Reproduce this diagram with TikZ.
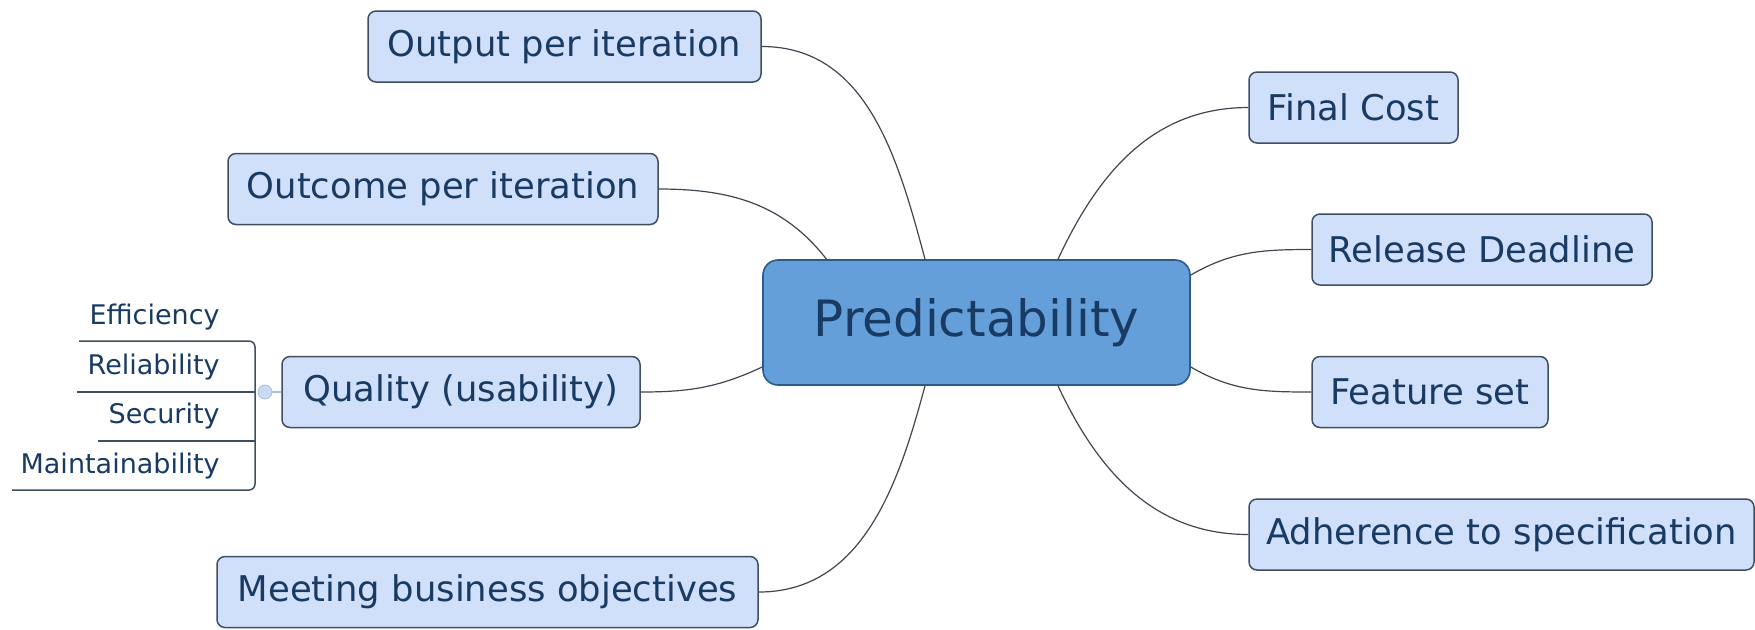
\documentclass[tikz,border=0pt]{standalone}
\usepackage{fontspec}
\setmainfont{DejaVu Sans}
\usetikzlibrary{calc}
\definecolor{boxfill}{HTML}{D0DFFA}
\definecolor{boxline}{HTML}{3D4F61}
\definecolor{txt}{HTML}{183A63}
\definecolor{cfill}{HTML}{659FDA}
\definecolor{cline}{HTML}{2E5A88}
\definecolor{conncol}{HTML}{3E4650}
\definecolor{dotfill}{HTML}{C9DAF1}
\definecolor{dotline}{HTML}{A9C0DE}
\tikzset{
  x=0.5pt, y=0.5pt,
  topic/.style={draw=boxline, line width=0.75pt, fill=boxfill, rounded corners=4pt,
    text=txt, font=\fontsize{17.7}{20}\selectfont, minimum height=35.5pt, inner sep=0pt, align=center},
  central/.style={draw=cline, line width=0.8pt, fill=cfill, rounded corners=7.5pt,
    text=txt, font=\fontsize{25}{28}\selectfont, minimum width=213.5pt, minimum height=62.5pt, inner sep=0pt},
  sub/.style={text=txt, font=\fontsize{13.5}{16}\selectfont, inner sep=0pt, anchor=east},
  conn/.style={draw=conncol, line width=0.6pt},
  subline/.style={draw=boxline, line width=0.75pt},
}
\begin{document}
\begin{tikzpicture}
\useasboundingbox (0,0) rectangle (1755,-629);

\node[central] (P) at (976.5,-322.5) {Predictability};

\node[topic, minimum width=196.5pt] (out) at (564.5,-46.5) {Output per iteration};
\node[topic, minimum width=215pt] (outc) at (443,-189) {Outcome per iteration};
\node[topic, minimum width=179pt] (qual) at (461,-392) {Quality (usability)};
\node[topic, minimum width=270.5pt] (meet) at (487.5,-592) {Meeting business objectives};

\node[topic, minimum width=104.5pt] (cost) at (1353.5,-107.5) {Final Cost};
\node[topic, minimum width=170pt] (rel) at (1482,-249.5) {Release Deadline};
\node[topic, minimum width=118pt] (feat) at (1430,-392) {Feature set};
\node[topic, minimum width=252.5pt] (adh) at (1501.5,-534.5) {Adherence to specification};

% subtopics of Quality
\node[sub] (eff) at (220,-317) {Efficiency};
\node[sub] (reli) at (220,-367) {Reliability};
\node[sub] (sec) at (220,-416) {Security};
\node[sub] (maint) at (220,-466) {Maintainability};

\coordinate (btop) at (255,-341);
\coordinate (bmid) at (255,-392);
\coordinate (bbot) at (255,-490);

\draw[subline, rounded corners=3pt] ($(eff.west)+(-10,-24)$) -- (btop) -- (bbot) -- ($(maint.west)+(-8,-24)$);
\draw[subline] ($(reli.west)+(-10,-25)$) -- (bmid);
\draw[subline] ($(sec.west)+(-10,-25)$) -- ($(sec.east)+(35,-25)$);

\node[circle, fill=dotfill, draw=dotline, line width=0.4pt, minimum size=7pt, inner sep=0pt] (dot) at (265,-392) {};
\draw[conn, draw=dotline] (dot) -- (qual.west);

% connectors
\draw[conn] (out.east) to[out=0, in=105] ($(P.north)+(-51.5,0)$);
\draw[conn] (outc.east) to[out=0, in=128] ($(P.north)+(-150,0)$);
\draw[conn] (qual.east) to[out=0, in=205] ($(P.west)+(0,-44.5)$);
\draw[conn] (meet.east) to[out=0, in=255] ($(P.south)+(-51.5,0)$);

\draw[conn] (cost.west) to[out=180, in=65] ($(P.north)+(81.5,0)$);
\draw[conn] (rel.west) to[out=180, in=30] ($(P.east)+(0,47.5)$);
\draw[conn] (feat.west) to[out=180, in=330] ($(P.east)+(0,-44.5)$);
\draw[conn] (adh.west) to[out=180, in=295] ($(P.south)+(81.5,0)$);
\end{tikzpicture}
\end{document}
